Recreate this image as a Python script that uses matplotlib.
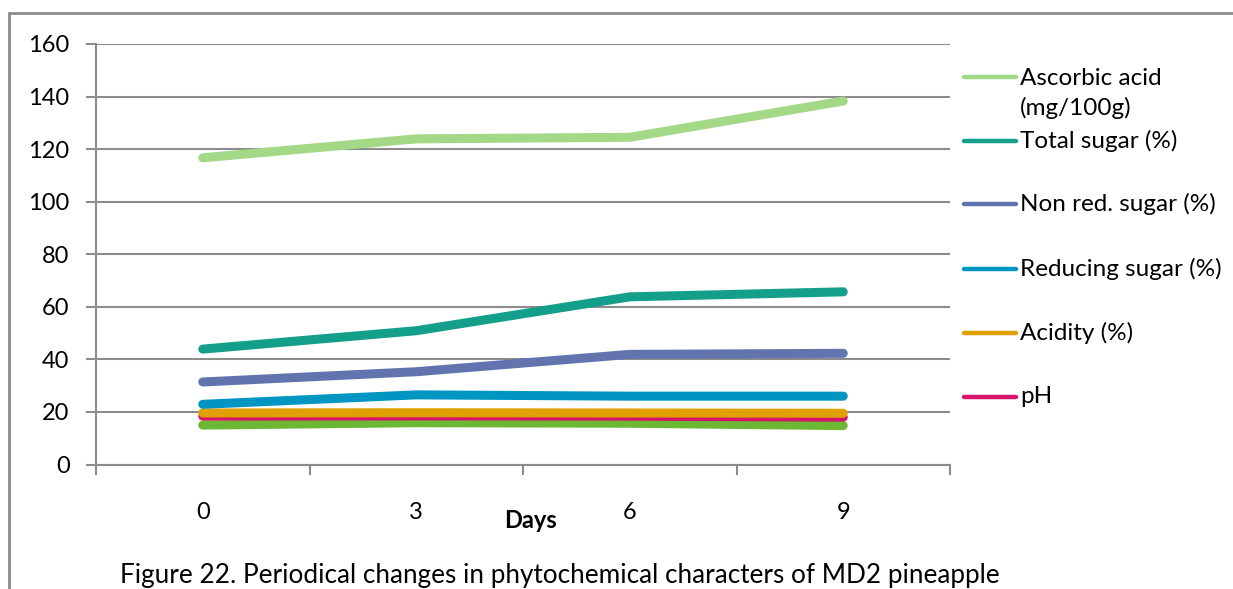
import numpy as np
import matplotlib.pyplot as plt
from matplotlib.lines import Line2D
from matplotlib.patches import Rectangle

plt.rcParams['font.family'] = ['Lato', 'DejaVu Sans']

# data
days = ['0', '3', '6', '9']
ascorbic = [116.7, 123.9, 124.5, 138.3]
total_sugar = [43.9, 50.9, 63.8, 65.7]
non_red_sugar = [31.4, 35.3, 41.9, 42.3]
reducing_sugar = [22.9, 26.5, 26.0, 26.0]
acidity = [19.6, 19.7, 19.6, 19.5]
ph = [18.4, 18.5, 18.4, 18.0]
tss = [15.0, 15.9, 15.7, 14.8]   # unlabelled series (legend cut off)

labels = ['Ascorbic acid\n(mg/100g)', 'Total sugar (%)', 'Non red. sugar (%)',
          'Reducing sugar (%)', 'Acidity (%)', 'pH']
colors = ['#a3d886', '#139f8a', '#6174ae', '#0096c1', '#e0a000', '#d6126a']
tss_color = '#6cb733'

fig = plt.figure(figsize=(12.33, 5.89), dpi=100)
ax = fig.add_axes([96/1233, 1 - 464.5/589, (950-96)/1233, (464.5-44)/589])

x = np.arange(len(days))
lw = 6.5
ax.plot(x, tss, color=tss_color, lw=lw, solid_capstyle='round', zorder=3)
ax.plot(x, ph, color=colors[5], lw=lw, solid_capstyle='round', zorder=3)
ax.plot(x, acidity, color=colors[4], lw=lw, solid_capstyle='round', zorder=3)
ax.plot(x, reducing_sugar, color=colors[3], lw=lw, solid_capstyle='round', zorder=3)
ax.plot(x, non_red_sugar, color=colors[2], lw=lw, solid_capstyle='round', zorder=3)
ax.plot(x, total_sugar, color=colors[1], lw=lw, solid_capstyle='round', zorder=3)
ax.plot(x, ascorbic, color=colors[0], lw=lw, solid_capstyle='round', zorder=3)

ax.set_xlim(-0.5, 3.5)
ax.set_ylim(0, 160)
ax.set_yticks(np.arange(0, 161, 20))
ax.yaxis.grid(True, color='#8c8c8c', lw=1.5)
ax.set_axisbelow(True)

ax.set_xticks(np.arange(-0.5, 4, 1))
ax.set_xticklabels([])
ax.set_xticks(x, minor=True)
ax.set_xticklabels(days, minor=True)
ax.tick_params(axis='x', which='minor', length=0, pad=27, labelsize=17)
ax.tick_params(axis='x', which='major', length=7, color='#8c8c8c', width=1.5)
ax.tick_params(axis='y', length=7, color='#8c8c8c', width=1.5, labelsize=17, pad=12)

for s in ['top', 'right']:
    ax.spines[s].set_visible(False)
for s in ['left', 'bottom']:
    ax.spines[s].set_color('#8c8c8c')
    ax.spines[s].set_linewidth(1.5)

fig.text(530/1233, 1 - 521/589, 'Days', fontsize=17, fontweight='bold',
         ha='center', va='center')
fig.text(120/1233, 1 - 576/589,
         'Figure 22. Periodical changes in phytochemical characters of MD2 pineapple',
         fontsize=18.8, ha='left', va='center')

# legend on the right
leg_y = [77.3, 140.7, 204.3, 268.7, 332.7, 396.7]
for lab, col, yy in zip(labels, colors, leg_y):
    fy = 1 - yy / 589
    fig.add_artist(Line2D([964/1233, 1016/1233], [fy, fy], color=col, lw=3.2,
                          solid_capstyle='round', transform=fig.transFigure))
    if '\n' in lab:
        fig.text(1020/1233, 1 - (yy - 9) / 589, lab, fontsize=17.5, ha='left',
                 va='top', linespacing=1.4)
    else:
        fig.text(1020/1233, fy, lab, fontsize=17.5, ha='left', va='center')

# outer frame (cut off at right and bottom)
fig.add_artist(Rectangle((9/1233, -0.1), 1.2, 1 - 13/589 + 0.1, fill=False,
                         edgecolor='#8c8c8c', lw=2, transform=fig.transFigure))

fig.savefig('out.png', dpi=100)
